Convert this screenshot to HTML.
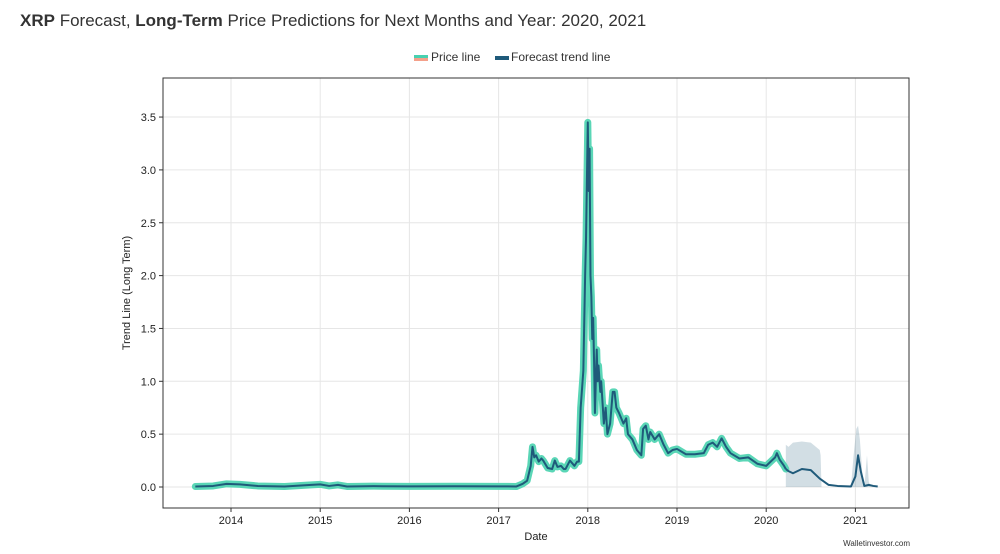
<!DOCTYPE html>
<html><head><meta charset="utf-8"><style>
body{margin:0;background:#fff;font-family:"Liberation Sans",sans-serif;width:1000px;height:554px;overflow:hidden}
</style></head><body>
<div style="position:absolute;left:20px;top:11px;font-size:17px;color:#333"><b>XRP</b> Forecast, <b>Long-Term</b> Price Predictions for Next Months and Year: 2020, 2021</div>
<svg id="c" width="1000" height="554" style="position:absolute;left:0;top:0" font-family="Liberation Sans, sans-serif">
<g>
<rect x="414" y="55" width="14" height="3" fill="#48d1b0"/><rect x="414" y="58" width="14" height="3" fill="#f4a08a"/>
<text x="431" y="61" font-size="12" fill="#333">Price line</text>
<rect x="495" y="56" width="14" height="4" fill="#1f5a7a"/>
<text x="511" y="61" font-size="12" fill="#333">Forecast trend line</text>
</g>
<g id="grid"></g>
<g id="marks"></g>
<rect x="163" y="78" width="746" height="430" fill="none" stroke="#333" stroke-width="1"/>
<text transform="translate(130,293) rotate(-90)" text-anchor="middle" font-size="11" fill="#222">Trend Line (Long Term)</text>
<text x="536" y="540" text-anchor="middle" font-size="11" fill="#222">Date</text>
<text x="910" y="546" text-anchor="end" font-size="8" fill="#333">Walletinvestor.com</text>
</svg>
<script>
const xTicks=[2014,2015,2016,2017,2018,2019,2020,2021];
const yTicks=[0,0.5,1,1.5,2,2.5,3,3.5];
const priceDates=[2013.6,2013.8,2013.95,2014.1,2014.3,2014.6,2014.9,2015.0,2015.1,2015.2,2015.3,2015.6,2016.0,2016.5,2017.0,2017.2,2017.27,2017.32,2017.36,2017.38,2017.4,2017.42,2017.45,2017.48,2017.5,2017.55,2017.6,2017.63,2017.66,2017.7,2017.73,2017.75,2017.8,2017.85,2017.88,2017.9,2017.92,2017.95,2017.97,2017.98,2018.0,2018.01,2018.02,2018.03,2018.04,2018.05,2018.06,2018.07,2018.08,2018.1,2018.11,2018.12,2018.14,2018.15,2018.18,2018.2,2018.22,2018.25,2018.28,2018.3,2018.32,2018.35,2018.4,2018.43,2018.45,2018.5,2018.55,2018.6,2018.62,2018.65,2018.68,2018.7,2018.75,2018.8,2018.85,2018.9,2018.95,2019.0,2019.1,2019.2,2019.3,2019.35,2019.4,2019.45,2019.5,2019.55,2019.6,2019.7,2019.8,2019.9,2020.0,2020.1,2020.12,2020.15,2020.2,2020.22];
const priceValues=[0.005,0.01,0.03,0.025,0.01,0.005,0.02,0.025,0.01,0.02,0.005,0.008,0.006,0.007,0.006,0.005,0.03,0.06,0.2,0.38,0.28,0.3,0.24,0.27,0.25,0.18,0.17,0.25,0.19,0.2,0.17,0.17,0.25,0.2,0.24,0.24,0.75,1.1,2.0,2.35,3.45,2.8,3.2,2.0,1.8,1.4,1.6,1.2,0.7,1.3,1.0,1.15,0.9,1.0,0.6,0.75,0.5,0.6,0.9,0.9,0.75,0.7,0.6,0.65,0.5,0.45,0.35,0.3,0.55,0.58,0.45,0.52,0.45,0.5,0.4,0.32,0.35,0.36,0.31,0.31,0.32,0.4,0.42,0.38,0.46,0.38,0.32,0.27,0.28,0.22,0.2,0.28,0.32,0.26,0.2,0.17];
const fcDates=[2020.22,2020.25,2020.3,2020.4,2020.5,2020.6,2020.7,2020.8,2020.95,2021.0,2021.03,2021.06,2021.1,2021.15,2021.2,2021.25];
const fcValues=[0.17,0.15,0.13,0.17,0.16,0.08,0.02,0.01,0.005,0.1,0.3,0.15,0.01,0.02,0.01,0.005];
const bandDates=[2020.22,2020.25,2020.3,2020.4,2020.5,2020.6,2020.61,2020.62,2020.95,2020.98,2021.01,2021.03,2021.05,2021.08,2021.1,2021.13,2021.15,2021.17];
const bandUpper=[0.4,0.38,0.42,0.43,0.42,0.35,0.3,0,0,0.3,0.55,0.58,0.45,0.1,0,0.3,0.05,0];
const X=d=>231+(d-2014)*89.2, Y=v=>487-v*105.7;
const NS='http://www.w3.org/2000/svg';
const g=document.getElementById('grid'),m=document.getElementById('marks');
function mk(tag,attrs,parent){const e=document.createElementNS(NS,tag);for(const k in attrs)e.setAttribute(k,attrs[k]);parent.appendChild(e);return e;}
xTicks.forEach(t=>{
 const l=mk('line',{x1:X(t),x2:X(t),y1:78,y2:508,stroke:'#e6e6e6'},g);
 
 
 mk('line',{x1:X(t),x2:X(t),y1:508,y2:512,stroke:'#333'},g);
 const tx=mk('text',{x:X(t),y:524,'text-anchor':'middle','font-size':'11',fill:'#222'},g);tx.textContent=t;
 
 
});
yTicks.forEach(t=>{
 const l=mk('line',{x1:163,x2:909,y1:Y(t),y2:Y(t),stroke:'#e6e6e6'},g);
 
 
 mk('line',{x1:159,x2:163,y1:Y(t),y2:Y(t),stroke:'#333'},g);
 const tx=mk('text',{x:156,y:Y(t)+4,'text-anchor':'end','font-size':'11',fill:'#222'},g);tx.textContent=t.toFixed(1);
 
 
});
let bp='M'+bandDates.map((d,i)=>X(d)+','+Y(bandUpper[i])).join('L');
for(let i=bandDates.length-1;i>=0;i--)bp+='L'+X(bandDates[i])+','+Y(0);
const band=mk('path',{d:bp+'Z',fill:'#1f5a7a','fill-opacity':0.2},m);


const pp=priceDates.map((d,i)=>X(d)+','+Y(priceValues[i])).join(' ');
const glow=mk('polyline',{points:pp,fill:'none',stroke:'#5ad6b6',"stroke-width":7,"stroke-linejoin":'round',"stroke-linecap":'round'},m);


const trend=mk('polyline',{points:pp,fill:'none',stroke:'#1f5a7a',"stroke-width":2,"stroke-linejoin":'round'},m);


const fc=mk('polyline',{points:fcDates.map((d,i)=>X(d)+','+Y(fcValues[i])).join(' '),fill:'none',stroke:'#1f5a7a',"stroke-width":2,"stroke-linejoin":'round'},m);


</script>
</body></html>
